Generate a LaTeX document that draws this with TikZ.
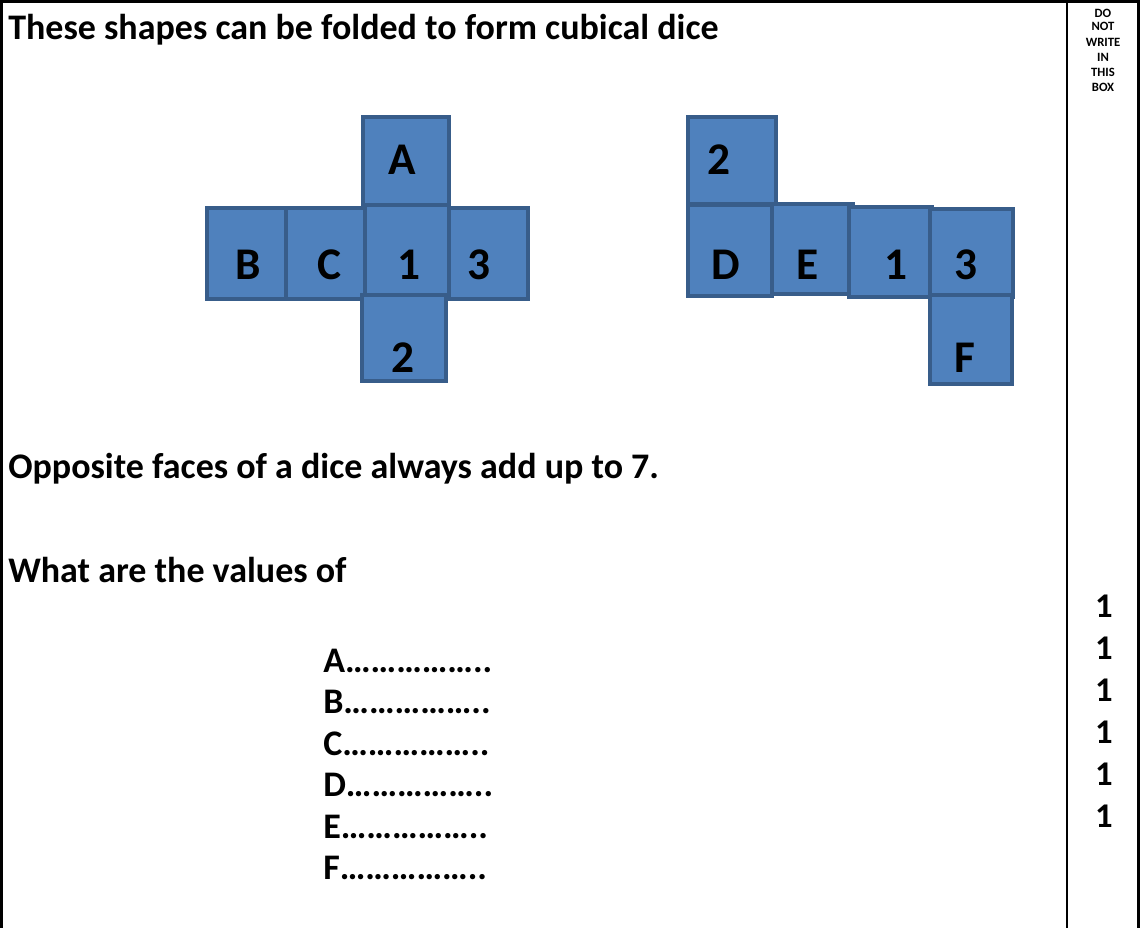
\documentclass[tikz,border=0pt]{standalone}
\usepackage{fontspec}
\setmainfont{Carlito}
\usetikzlibrary{positioning}
\definecolor{FaceBlue}{HTML}{4F81BD}
\definecolor{FaceEdge}{HTML}{385D8A}

\begin{document}
\begin{tikzpicture}[x=0.75pt, y=-0.75pt,
    face/.style={draw=FaceEdge, line width=3pt, fill=FaceBlue},
    facelabel/.style={inner sep=0pt, font=\fontsize{34}{40}\selectfont\bfseries},
    bodytext/.style={anchor=base west, inner sep=0pt, font=\fontsize{27}{32}\selectfont\bfseries},
    marktext/.style={anchor=base, inner sep=0pt, font=\fontsize{26}{32}\selectfont\bfseries},
    boxnote/.style={anchor=base, inner sep=0pt, font=\fontsize{9.5}{11}\selectfont\bfseries},
    frame/.style={line width=1.6pt}]
    \useasboundingbox (0,0) rectangle (1140,928);

    % Page frame and margin column
    \draw[frame] (0,1.5) -- (1140,1.5);
    \draw[frame] (1.5,0) -- (1.5,928);
    \draw[frame] (1067,0) -- (1067,928);
    \draw[frame] (1138.5,0) -- (1138.5,928);

    % Margin note
    \node[boxnote] (noteDo) at (1103,17) {DO};
    \node[boxnote] (noteNot) at (1103,31) {NOT};
    \node[boxnote] (noteWrite) at (1103,46) {WRITE};
    \node[boxnote] (noteIn) at (1103,61) {IN};
    \node[boxnote] (noteThis) at (1103,76) {THIS};
    \node[boxnote] (noteBox) at (1103,91) {BOX};

    % Heading
    \node[bodytext] (title) at (8,40) {These shapes can be folded to form cubical dice};

    % First net (cross)
    \draw[face] (363,117) rectangle (449,208);
    \draw[face] (207,208) rectangle (288,299);
    \draw[face] (286,208) rectangle (365,299);
    \draw[face] (445,208) rectangle (528,299);
    \draw[face] (365,205) rectangle (449,295);
    \draw[face] (362,295) rectangle (446,381);
    \node[facelabel] (crossA) at (402,160) {A};
    \node[facelabel] (crossB) at (248,265) {B};
    \node[facelabel] (crossC) at (329,265) {C};
    \node[facelabel] (crossOne) at (409,265) {1};
    \node[facelabel] (crossThree) at (479,265) {3};
    \node[facelabel] (crossTwo) at (403,358) {2};

    % Second net (zig-zag)
    \draw[face] (688,117) rectangle (776,204);
    \draw[face] (688,205) rectangle (772,296);
    \draw[face] (772,204) rectangle (853,294);
    \draw[face] (849,207) rectangle (932,297);
    \draw[face] (930,209) rectangle (1013,297);
    \draw[face] (930,295) rectangle (1012,384);
    \node[facelabel] (zigTwo) at (719,160) {2};
    \node[facelabel] (zigD) at (726,265) {D};
    \node[facelabel] (zigE) at (808,265) {E};
    \node[facelabel] (zigOne) at (896,265) {1};
    \node[facelabel] (zigThree) at (966,265) {3};
    \node[facelabel] (zigF) at (965,358) {F};

    % Question
    \node[bodytext] (rule) at (8,478) {Opposite faces of a dice always add up to 7.};
    \node[bodytext] (ask) at (8,582) {What are the values of};

    % Answer lines
    \node[bodytext] (ansA) at (323,672) {A……………..};
    \node[bodytext] (ansB) at (323,713.5) {B……………..};
    \node[bodytext] (ansC) at (323,755) {C……………..};
    \node[bodytext] (ansD) at (323,796.5) {D……………..};
    \node[bodytext] (ansE) at (323,838) {E……………..};
    \node[bodytext] (ansF) at (323,879.5) {F……………..};

    % Marks
    \node[marktext] (markA) at (1104,617) {1};
    \node[marktext] (markB) at (1104,659) {1};
    \node[marktext] (markC) at (1104,701) {1};
    \node[marktext] (markD) at (1104,743) {1};
    \node[marktext] (markE) at (1104,785) {1};
    \node[marktext] (markF) at (1104,827) {1};
\end{tikzpicture}
\end{document}
